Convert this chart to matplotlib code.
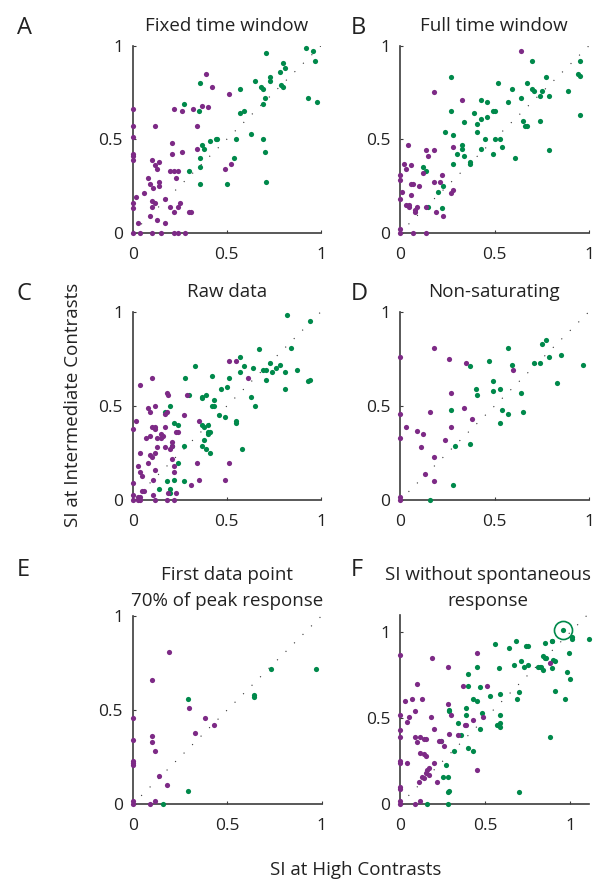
import matplotlib
matplotlib.use("Agg")
import matplotlib.pyplot as plt
import numpy as np

plt.rcParams["font.family"] = ["Open Sans", "DejaVu Sans"]

PURPLE = "#7d2a86"
GREEN = "#00894b"
AXIS_COLOR = "#3c3c3c"

# (SI high contrast, SI intermediate contrast) per cell
a_purple = np.array([
    (0.39, 0.85), (0.42, 0.78), (0.51, 0.74), (0.22, 0.66), (0.26, 0.65), (0.32, 0.66),
    (0.37, 0.68), (0.40, 0.67), (0.12, 0.57), (0.34, 0.57), (0.21, 0.48), (0.34, 0.45),
    (0.21, 0.42), (0.26, 0.43), (0.10, 0.39), (0.14, 0.38), (0.12, 0.36), (0.13, 0.34),
    (0.14, 0.27), (0.14, 0.25), (0.09, 0.26), (0.08, 0.29), (0.11, 0.24), (0.06, 0.21),
    (0.02, 0.19), (0.20, 0.33), (0.22, 0.33), (0.24, 0.33), (0.23, 0.29), (0.49, 0.34),
    (0.52, 0.37), (0.10, 0.17), (0.12, 0.16), (0.17, 0.18), (0.25, 0.16), (0.20, 0.14),
    (0.24, 0.14), (0.10, 0.14), (0.09, 0.09), (0.22, 0.11), (0.30, 0.11), (0.31, 0.11),
    (0.13, 0.07), (0.03, 0.05), (0.17, 0.05), (0.00, 0.66), (0.00, 0.57), (0.00, 0.51),
    (0.00, 0.42), (0.00, 0.41), (0.00, 0.39), (0.00, 0.16), (0.00, 0.13), (0.00, 0.00),
    (0.04, 0.00), (0.10, 0.00), (0.15, 0.00), (0.22, 0.00), (0.24, 0.00), (0.28, 0.00),
])
a_green = np.array([
    (0.92, 0.99), (0.96, 0.97), (0.97, 0.92), (0.71, 0.96), (0.80, 0.91), (0.81, 0.88),
    (0.78, 0.86), (0.73, 0.83), (0.73, 0.81), (0.65, 0.81), (0.68, 0.78), (0.69, 0.77),
    (0.70, 0.72), (0.69, 0.69), (0.79, 0.79), (0.80, 0.78), (0.57, 0.77), (0.36, 0.80),
    (0.93, 0.72), (0.98, 0.70), (0.27, 0.69), (0.35, 0.65), (0.57, 0.64), (0.59, 0.65),
    (0.63, 0.53), (0.69, 0.50), (0.55, 0.50), (0.44, 0.50), (0.45, 0.50), (0.41, 0.49),
    (0.37, 0.47), (0.38, 0.45), (0.36, 0.40), (0.54, 0.40), (0.70, 0.43), (0.36, 0.35),
    (0.30, 0.33), (0.36, 0.26), (0.50, 0.26), (0.71, 0.27),
])

b_purple = np.array([
    (0.64, 0.97), (0.18, 0.75), (0.33, 0.71), (0.04, 0.47), (0.14, 0.44), (0.18, 0.44),
    (0.15, 0.41), (0.28, 0.46), (0.02, 0.37), (0.03, 0.34), (0.06, 0.36), (0.12, 0.32),
    (0.22, 0.31), (0.00, 0.31), (0.00, 0.28), (0.01, 0.22), (0.00, 0.18), (0.06, 0.26),
    (0.07, 0.26), (0.10, 0.25), (0.18, 0.27), (0.21, 0.27), (0.06, 0.20), (0.03, 0.15),
    (0.05, 0.15), (0.05, 0.14), (0.08, 0.11), (0.08, 0.12), (0.09, 0.14), (0.14, 0.14),
    (0.19, 0.11), (0.23, 0.09), (0.28, 0.23), (0.27, 0.21), (0.00, 0.02), (0.00, 0.00),
    (0.07, 0.00), (0.14, 0.00),
])
b_green = np.array([
    (0.95, 0.92), (0.70, 0.92), (0.27, 0.83), (0.77, 0.83), (0.94, 0.85), (0.95, 0.84),
    (0.52, 0.80), (0.59, 0.77), (0.67, 0.80), (0.70, 0.77), (0.71, 0.76), (0.75, 0.76),
    (0.74, 0.73), (0.79, 0.73), (0.89, 0.76), (0.64, 0.72), (0.43, 0.71), (0.46, 0.70),
    (0.57, 0.70), (0.49, 0.65), (0.50, 0.65), (0.27, 0.65), (0.39, 0.64), (0.43, 0.61),
    (0.46, 0.62), (0.34, 0.59), (0.41, 0.58), (0.65, 0.60), (0.66, 0.57), (0.67, 0.57),
    (0.74, 0.60), (0.95, 0.63), (0.24, 0.54), (0.28, 0.52), (0.41, 0.54), (0.45, 0.50),
    (0.50, 0.50), (0.53, 0.50), (0.54, 0.46), (0.43, 0.45), (0.33, 0.47), (0.33, 0.45),
    (0.30, 0.42), (0.34, 0.41), (0.49, 0.42), (0.37, 0.38), (0.37, 0.37), (0.28, 0.37),
    (0.61, 0.40), (0.79, 0.44), (0.12, 0.35), (0.14, 0.33), (0.23, 0.25), (0.20, 0.22),
    (0.22, 0.13), (0.15, 0.14),
])

c_purple = np.array([
    (0.51, 0.74), (0.55, 0.74), (0.61, 0.65), (0.10, 0.65), (0.04, 0.61), (0.18, 0.57),
    (0.19, 0.56), (0.29, 0.56), (0.12, 0.50), (0.08, 0.49), (0.09, 0.47), (0.18, 0.47),
    (0.17, 0.46), (0.27, 0.45), (0.02, 0.42), (0.00, 0.38), (0.35, 0.42), (0.10, 0.39),
    (0.12, 0.39), (0.12, 0.38), (0.17, 0.39), (0.15, 0.35), (0.16, 0.34), (0.15, 0.33),
    (0.13, 0.33), (0.09, 0.34), (0.07, 0.33), (0.21, 0.31), (0.23, 0.36), (0.24, 0.36),
    (0.21, 0.29), (0.13, 0.28), (0.20, 0.27), (0.17, 0.28), (0.04, 0.25), (0.09, 0.24),
    (0.10, 0.23), (0.12, 0.25), (0.08, 0.20), (0.21, 0.22), (0.22, 0.18), (0.03, 0.18),
    (0.04, 0.15), (0.05, 0.13), (0.12, 0.16), (0.34, 0.20), (0.51, 0.20), (0.22, 0.15),
    (0.11, 0.11), (0.35, 0.11), (0.49, 0.11), (0.31, 0.08), (0.00, 0.09), (0.05, 0.05),
    (0.06, 0.05), (0.19, 0.04), (0.23, 0.04), (0.00, 0.03), (0.03, 0.02), (0.04, 0.02),
    (0.11, 0.03), (0.00, 0.00), (0.03, 0.00), (0.04, 0.00), (0.12, 0.00), (0.18, 0.00),
    (0.22, 0.00),
])
c_green = np.array([
    (0.82, 0.98), (0.94, 0.95), (0.67, 0.80), (0.84, 0.81), (0.57, 0.76), (0.59, 0.71),
    (0.64, 0.70), (0.33, 0.71), (0.73, 0.73), (0.69, 0.69), (0.71, 0.69), (0.74, 0.68),
    (0.76, 0.70), (0.78, 0.72), (0.87, 0.69), (0.81, 0.68), (0.71, 0.64), (0.28, 0.65),
    (0.42, 0.66), (0.51, 0.65), (0.57, 0.68), (0.47, 0.59), (0.50, 0.60), (0.63, 0.55),
    (0.65, 0.50), (0.81, 0.59), (0.93, 0.63), (0.94, 0.64), (0.30, 0.56), (0.37, 0.54),
    (0.37, 0.55), (0.39, 0.56), (0.43, 0.53), (0.42, 0.50), (0.43, 0.50), (0.20, 0.50),
    (0.17, 0.47), (0.46, 0.45), (0.49, 0.44), (0.55, 0.42), (0.55, 0.41), (0.22, 0.41),
    (0.24, 0.40), (0.37, 0.40), (0.38, 0.39), (0.40, 0.40), (0.40, 0.36), (0.41, 0.36),
    (0.40, 0.35), (0.38, 0.32), (0.37, 0.29), (0.39, 0.27), (0.41, 0.25), (0.27, 0.29),
    (0.21, 0.29), (0.58, 0.27), (0.24, 0.20), (0.18, 0.10), (0.27, 0.10), (0.22, 0.11),
    (0.14, 0.06), (0.20, 0.06), (0.20, 0.04),
])

d_purple = np.array([
    (0.00, 0.76), (0.18, 0.81), (0.26, 0.75), (0.35, 0.73), (0.60, 0.69), (0.00, 0.46),
    (0.16, 0.47), (0.27, 0.57), (0.34, 0.49), (0.03, 0.39), (0.09, 0.37), (0.12, 0.35),
    (0.38, 0.43), (0.27, 0.39), (0.00, 0.33), (0.11, 0.28), (0.24, 0.32), (0.18, 0.23),
    (0.13, 0.14), (0.18, 0.10), (0.00, 0.02), (0.00, 0.00),
])
d_green = np.array([
    (0.57, 0.81), (0.77, 0.85), (0.75, 0.83), (0.47, 0.74), (0.37, 0.71), (0.59, 0.72),
    (0.71, 0.73), (0.74, 0.73), (0.79, 0.76), (0.85, 0.77), (0.97, 0.72), (0.49, 0.63),
    (0.40, 0.59), (0.41, 0.56), (0.49, 0.58), (0.53, 0.59), (0.64, 0.57), (0.83, 0.62),
    (0.27, 0.48), (0.54, 0.48), (0.57, 0.46), (0.65, 0.47), (0.53, 0.41), (0.37, 0.30),
    (0.29, 0.29), (0.28, 0.08), (0.16, 0.00),
])

e_purple = np.array([
    (0.19, 0.81), (0.10, 0.66), (0.30, 0.51), (0.38, 0.46), (0.43, 0.42), (0.33, 0.38),
    (0.00, 0.46), (0.10, 0.36), (0.10, 0.33), (0.12, 0.28), (0.00, 0.34), (0.00, 0.23),
    (0.00, 0.22), (0.00, 0.21), (0.14, 0.15), (0.18, 0.10), (0.12, 0.02), (0.09, 0.00),
    (0.00, 0.02), (0.00, 0.00),
])
e_green = np.array([
    (0.73, 0.72), (0.97, 0.72), (0.64, 0.58), (0.64, 0.57), (0.29, 0.56), (0.29, 0.07),
    (0.16, 0.00),
])

f_purple = np.array([
    (0.45, 0.88), (0.19, 0.85), (0.28, 0.80), (0.00, 0.87), (0.10, 0.70), (0.37, 0.69),
    (0.51, 0.69), (0.88, 0.82), (0.03, 0.60), (0.07, 0.61), (0.13, 0.61), (0.28, 0.58),
    (0.09, 0.54), (0.30, 0.52), (0.18, 0.51), (0.05, 0.51), (0.04, 0.48), (0.00, 0.52),
    (0.00, 0.43), (0.00, 0.39), (0.49, 0.51), (0.43, 0.49), (0.38, 0.46), (0.39, 0.46),
    (0.20, 0.44), (0.09, 0.39), (0.10, 0.36), (0.12, 0.39), (0.14, 0.38), (0.15, 0.38),
    (0.23, 0.37), (0.24, 0.37), (0.29, 0.41), (0.34, 0.40), (0.26, 0.34), (0.12, 0.30),
    (0.14, 0.29), (0.15, 0.28), (0.00, 0.25), (0.00, 0.24), (0.04, 0.24), (0.20, 0.24),
    (0.17, 0.21), (0.16, 0.20), (0.15, 0.18), (0.17, 0.17), (0.13, 0.16), (0.14, 0.15),
    (0.11, 0.13), (0.22, 0.13), (0.45, 0.20), (0.00, 0.10), (0.00, 0.09), (0.12, 0.02),
    (0.09, 0.00), (0.00, 0.02), (0.00, 0.00),
])
# first entry is the highlighted cell
f_green = np.array([
    (0.96, 1.01), (1.01, 0.97), (1.01, 0.96), (1.11, 0.96), (0.56, 0.93), (0.68, 0.95),
    (0.64, 0.91), (0.74, 0.92), (0.75, 0.92), (0.85, 0.94), (0.89, 0.95), (0.89, 0.95),
    (0.99, 0.88), (0.84, 0.86), (0.85, 0.85), (0.86, 0.85), (0.90, 0.84), (0.91, 0.83),
    (0.81, 0.80), (0.82, 0.80), (0.83, 0.80), (0.84, 0.78), (0.89, 0.79), (0.71, 0.83),
    (0.67, 0.81), (0.73, 0.80), (0.75, 0.81), (0.58, 0.79), (0.45, 0.80), (0.40, 0.76),
    (0.98, 0.77), (1.00, 0.73), (0.91, 0.66), (0.97, 0.61), (0.40, 0.69), (0.47, 0.68),
    (0.53, 0.63), (0.59, 0.64), (0.70, 0.65), (0.69, 0.61), (0.43, 0.61), (0.45, 0.60),
    (0.29, 0.55), (0.29, 0.54), (0.39, 0.56), (0.39, 0.52), (0.48, 0.53), (0.59, 0.52),
    (0.34, 0.47), (0.57, 0.46), (0.58, 0.46), (0.59, 0.47), (0.59, 0.45), (0.47, 0.44),
    (0.36, 0.40), (0.40, 0.33), (0.43, 0.31), (0.32, 0.31), (0.24, 0.37), (0.88, 0.39),
    (0.27, 0.23), (0.28, 0.16), (0.25, 0.16), (0.29, 0.08), (0.28, 0.07), (0.70, 0.07),
    (0.16, 0.00), (0.28, 0.00),
])

ticks = [0, 0.5, 1]
tick_labels = ["0", "0.5", "1"]

W, H = 598, 886
fig = plt.figure(figsize=(W / 100, H / 100), dpi=100)


def panel(box, purple, green, xmax=1.0, ymax=1.0):
    left, top, right, bottom = box
    ax = fig.add_axes([left / W, 1 - bottom / H, (right - left) / W, (bottom - top) / H])
    ax.plot([0, min(xmax, ymax)], [0, min(xmax, ymax)], color="#333333", lw=0.8,
            linestyle=(0, (1, 9.8)), zorder=1)
    ax.scatter(green[:, 0], green[:, 1], s=14, color=GREEN, linewidths=0, zorder=3, clip_on=False)
    ax.scatter(purple[:, 0], purple[:, 1], s=14, color=PURPLE, linewidths=0, zorder=3, clip_on=False)
    ax.set_xlim(0, xmax)
    ax.set_ylim(0, ymax)
    ax.set_xticks(ticks, tick_labels)
    ax.set_yticks(ticks, tick_labels)
    for s in ["top", "right"]:
        ax.spines[s].set_visible(False)
    for s in ["left", "bottom"]:
        ax.spines[s].set_color(AXIS_COLOR)
        ax.spines[s].set_linewidth(1.2)
    ax.tick_params(direction="in", length=2, width=0.8, color=AXIS_COLOR,
                   labelsize=12.5, labelcolor="#222222")
    ax.tick_params(axis="x", pad=10)
    ax.tick_params(axis="y", pad=7)
    return ax


def label(x, y, text, size=13.5, ha="center"):
    fig.text(x / W, 1 - y / H, text, fontsize=size, ha=ha, va="baseline", color="#222222")


panel((132.7, 45.7, 321, 232.7), a_purple, a_green)
panel((400, 45.7, 589, 232.7), b_purple, b_green)
panel((132.7, 311.7, 321, 500.3), c_purple, c_green)
panel((400, 311.7, 589, 500.3), d_purple, d_green)
panel((132.7, 615.7, 321.7, 804.3), e_purple, e_green)
ax_f = panel((400, 615, 589, 804.3), f_purple, f_green, xmax=1.11, ymax=1.1)

# highlighted cell in F
ax_f.plot(f_green[0, 0], f_green[0, 1], marker="o", markersize=13, fillstyle="none",
          markeredgecolor=GREEN, markeredgewidth=1.2, clip_on=False, zorder=4)

label(227, 31, "Fixed time window")
label(494, 31, "Full time window")
label(227, 297, "Raw data")
label(494, 297, "Non-saturating")
label(227, 580, "First data point")
label(227, 606, "70% of peak response")
label(488, 580, "SI without spontaneous")
label(488, 606, "response")

for letter, x, y in [("A", 17, 34), ("B", 351, 34), ("C", 17, 300), ("D", 351, 300),
                     ("E", 17, 576), ("F", 351, 576)]:
    label(x, y, letter, size=17, ha="left")

label(356, 875, "SI at High Contrasts")
fig.text(73 / W, 1 - 405 / H, "SI at Intermediate Contrasts", fontsize=13.5, rotation=90,
         ha="center", va="center", color="#222222")

fig.savefig("out.png", dpi=100)
